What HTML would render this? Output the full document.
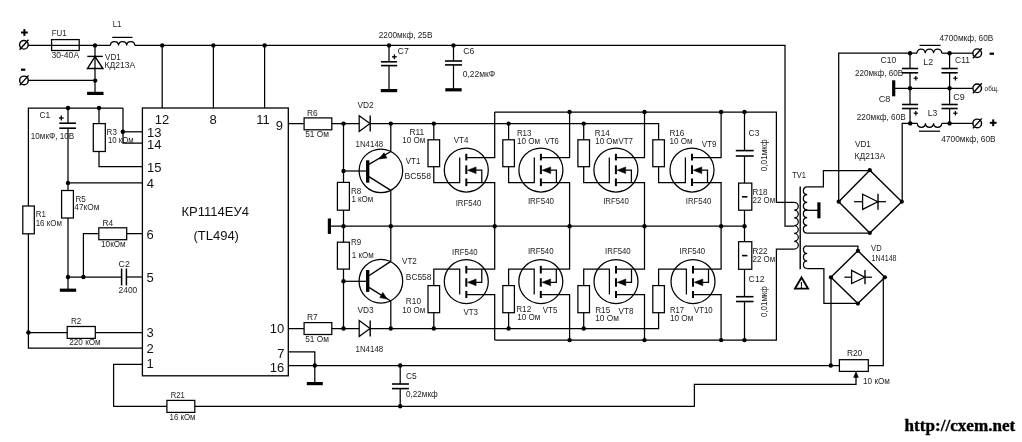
<!DOCTYPE html>
<html><head><meta charset="utf-8"><title>TL494 inverter schematic</title>
<style>
html,body{margin:0;padding:0;background:#fff}
svg{display:block;will-change:transform}
.t{font:8.3px "Liberation Sans",sans-serif;fill:#1c1c1c;stroke:none}
.p{font:13px "Liberation Sans",sans-serif;fill:#111;stroke:none}
</style></head><body>
<svg width="1022" height="442" viewBox="0 0 1022 442" fill="none" stroke="#000" stroke-linecap="butt" stroke-linejoin="miter">
<rect x="0" y="0" width="1022" height="442" fill="#fff" stroke="none"/>
<polyline points="21.0,32.5 27.8,32.5" stroke-width="2.0" />
<polyline points="24.4,29.1 24.4,35.9" stroke-width="2.0" />
<circle cx="23.9" cy="44.8" r="4.3" stroke-width="1.4" fill="#fff"/>
<polyline points="19.6,49.8 28.5,39.8" stroke-width="1.4" />
<polyline points="28.2,45.4 110.4,45.4" stroke-width="1.25" />
<rect x="51.6" y="39.6" width="27.6" height="10.9" stroke-width="1.25" fill="#fff"/>
<polyline points="51.6,45.4 79.2,45.4" stroke-width="1.25" />
<text class="t" x="51.7" y="36.3" textLength="14.9" lengthAdjust="spacingAndGlyphs">FU1</text>
<text class="t" x="51.5" y="58.4" textLength="27.6" lengthAdjust="spacingAndGlyphs">30-40A</text>
<circle cx="95.0" cy="45.4" r="2.2" fill="#000" stroke="none"/>
<polyline points="95.0,45.4 95.0,93.0" stroke-width="1.25" />
<polyline points="87.3,56.4 102.8,56.4" stroke-width="1.4" />
<polygon points="95.0,56.6 87.5,68.5 102.9,68.5" fill="none" stroke-width="1.4"/>
<polyline points="21.0,69.7 25.3,69.7" stroke-width="2.2" />
<circle cx="24.0" cy="80.4" r="4.3" stroke-width="1.4" fill="#fff"/>
<polyline points="19.7,85.4 28.6,75.4" stroke-width="1.4" />
<polyline points="28.3,80.4 95.0,80.4" stroke-width="1.25" />
<circle cx="95.2" cy="80.6" r="2.2" fill="#000" stroke="none"/>
<polyline points="87.1,93.4 103.5,93.4" stroke-width="3.2" />
<text class="t" x="105.0" y="59.9" textLength="15.8" lengthAdjust="spacingAndGlyphs">VD1</text>
<text class="t" x="104.6" y="68.4" textLength="30.6" lengthAdjust="spacingAndGlyphs">КД213А</text>
<path d="M110.4,45.4 a4.07,4.07 0 0 1 8.13,0 a4.07,4.07 0 0 1 8.13,0 a4.07,4.07 0 0 1 8.13,0" stroke-width="1.25" fill="none"/>
<polyline points="112.3,37.4 132.5,37.4" stroke-width="1.25" />
<text class="t" x="112.7" y="26.5" textLength="8.7" lengthAdjust="spacingAndGlyphs">L1</text>
<polyline points="134.8,45.4 785.0,45.4 785.0,226.2 794.2,226.2" stroke-width="1.25" />
<circle cx="162.2" cy="45.4" r="2.2" fill="#000" stroke="none"/>
<circle cx="213.4" cy="45.4" r="2.2" fill="#000" stroke="none"/>
<circle cx="264.6" cy="45.4" r="2.2" fill="#000" stroke="none"/>
<polyline points="162.2,45.4 162.2,108.0" stroke-width="1.25" />
<polyline points="213.4,45.4 213.4,108.0" stroke-width="1.25" />
<polyline points="264.6,45.4 264.6,108.0" stroke-width="1.25" />
<circle cx="389.0" cy="45.4" r="2.2" fill="#000" stroke="none"/>
<polyline points="389.0,45.4 389.0,61.8" stroke-width="1.25" />
<polyline points="389.0,65.6 389.0,90.4" stroke-width="1.25" />
<polyline points="381.0,61.8 397.2,61.8" stroke-width="1.6" />
<polyline points="381.0,65.6 397.2,65.6" stroke-width="1.6" />
<polyline points="380.8,90.6 397.2,90.6" stroke-width="3.2" />
<polyline points="392.0,56.8 396.8,56.8" stroke-width="1.3" />
<polyline points="394.4,54.4 394.4,59.2" stroke-width="1.3" />
<circle cx="453.5" cy="45.4" r="2.2" fill="#000" stroke="none"/>
<polyline points="453.5,45.4 453.5,61.0" stroke-width="1.25" />
<polyline points="453.5,64.9 453.5,89.6" stroke-width="1.25" />
<polyline points="445.0,61.0 462.0,61.0" stroke-width="1.6" />
<polyline points="445.0,64.9 462.0,64.9" stroke-width="1.6" />
<polyline points="445.3,89.8 461.7,89.8" stroke-width="3.2" />
<text class="t" x="378.7" y="38.2" textLength="53.8" lengthAdjust="spacingAndGlyphs">2200мкф, 25В</text>
<text class="t" x="397.6" y="53.5" textLength="11.3" lengthAdjust="spacingAndGlyphs">C7</text>
<text class="t" x="463.3" y="53.5" textLength="11.1" lengthAdjust="spacingAndGlyphs">C6</text>
<text class="t" x="462.8" y="76.5" textLength="32.4" lengthAdjust="spacingAndGlyphs">0,22мкФ</text>
<rect x="142.4" y="108.0" width="145.9" height="267.8" stroke-width="1.3" fill="#fff"/>
<text class="p" x="162.1" y="124.3" text-anchor="middle">12</text>
<text class="p" x="213.1" y="124.3" text-anchor="middle">8</text>
<text class="p" x="262.9" y="124.3" text-anchor="middle">11</text>
<text class="p" x="279.3" y="130.0" text-anchor="middle">9</text>
<text class="p" x="154.2" y="137.0" text-anchor="middle">13</text>
<text class="p" x="154.3" y="148.5" text-anchor="middle">14</text>
<text class="p" x="154.2" y="171.6" text-anchor="middle">15</text>
<text class="p" x="150.4" y="188.0" text-anchor="middle">4</text>
<text class="p" x="150.1" y="239.0" text-anchor="middle">6</text>
<text class="p" x="150.1" y="282.0" text-anchor="middle">5</text>
<text class="p" x="150.1" y="337.0" text-anchor="middle">3</text>
<text class="p" x="150.1" y="353.0" text-anchor="middle">2</text>
<text class="p" x="150.2" y="368.0" text-anchor="middle">1</text>
<text class="p" x="276.9" y="333.0" text-anchor="middle">10</text>
<text class="p" x="280.8" y="357.7" text-anchor="middle">7</text>
<text class="p" x="277.1" y="372.0" text-anchor="middle">16</text>
<text class="p" x="215.2" y="216.4" text-anchor="middle">КР1114ЕУ4</text>
<text class="p" x="216.2" y="240.4" text-anchor="middle">(TL494)</text>
<polyline points="123.0,108.0 28.4,108.0 28.4,348.0 142.4,348.0" stroke-width="1.25" />
<circle cx="68.0" cy="108.0" r="2.2" fill="#000" stroke="none"/>
<circle cx="99.0" cy="108.0" r="2.2" fill="#000" stroke="none"/>
<polyline points="123.0,108.0 123.0,143.2 142.4,143.2" stroke-width="1.25" />
<circle cx="122.8" cy="131.8" r="2.2" fill="#000" stroke="none"/>
<polyline points="122.8,131.8 142.4,131.8" stroke-width="1.25" />
<polyline points="99.0,108.0 99.0,166.7 142.4,166.7" stroke-width="1.25" />
<rect x="93.3" y="123.6" width="12.0" height="27.9" stroke-width="1.25" fill="#fff"/>
<polyline points="68.0,108.0 68.0,123.2" stroke-width="1.25" />
<polyline points="68.0,128.2 68.0,290.0" stroke-width="1.25" />
<polyline points="59.3,123.2 76.0,123.2" stroke-width="1.6" />
<polyline points="59.3,128.2 76.0,128.2" stroke-width="1.6" />
<polyline points="58.9,118.0 63.7,118.0" stroke-width="1.3" />
<polyline points="61.3,115.6 61.3,120.4" stroke-width="1.3" />
<circle cx="68.0" cy="182.9" r="2.2" fill="#000" stroke="none"/>
<polyline points="68.0,182.9 142.4,182.9" stroke-width="1.25" />
<rect x="61.6" y="190.5" width="11.8" height="27.5" stroke-width="1.25" fill="#fff"/>
<circle cx="68.0" cy="277.0" r="2.2" fill="#000" stroke="none"/>
<circle cx="83.4" cy="277.0" r="2.2" fill="#000" stroke="none"/>
<polyline points="68.0,277.0 121.5,277.0" stroke-width="1.25" />
<polyline points="126.4,277.0 142.4,277.0" stroke-width="1.25" />
<polyline points="121.6,268.5 121.6,285.5" stroke-width="1.5" />
<polyline points="126.4,268.5 126.4,285.5" stroke-width="1.5" />
<polyline points="83.4,277.0 83.4,233.7 142.4,233.7" stroke-width="1.25" />
<rect x="98.8" y="227.8" width="27.9" height="11.9" stroke-width="1.25" fill="#fff"/>
<polyline points="59.8,290.2 76.2,290.2" stroke-width="3.2" />
<rect x="22.8" y="206.0" width="11.5" height="27.8" stroke-width="1.25" fill="#fff"/>
<circle cx="28.4" cy="332.5" r="2.2" fill="#000" stroke="none"/>
<polyline points="28.4,332.5 142.4,332.5" stroke-width="1.25" />
<rect x="67.2" y="326.5" width="28.1" height="11.9" stroke-width="1.25" fill="#fff"/>
<polyline points="142.4,364.4 113.6,364.4 113.6,406.3 694.4,406.3 694.4,384.4 856.0,384.4 856.0,376.0" stroke-width="1.25" />
<rect x="166.9" y="400.4" width="27.9" height="12.0" stroke-width="1.25" fill="#fff"/>
<text class="t" x="39.4" y="117.5" textLength="10.8" lengthAdjust="spacingAndGlyphs">C1</text>
<text class="t" x="30.7" y="139.2" textLength="43.6" lengthAdjust="spacingAndGlyphs">10мкФ, 10В</text>
<text class="t" x="106.6" y="134.9" textLength="10.3" lengthAdjust="spacingAndGlyphs">R3</text>
<text class="t" x="107.9" y="143.2" textLength="25.7" lengthAdjust="spacingAndGlyphs">10 кОм</text>
<text class="t" x="75.5" y="201.9" textLength="10.3" lengthAdjust="spacingAndGlyphs">R5</text>
<text class="t" x="74.3" y="209.9" textLength="25.1" lengthAdjust="spacingAndGlyphs">47кОм</text>
<text class="t" x="35.7" y="217.4" textLength="10.2" lengthAdjust="spacingAndGlyphs">R1</text>
<text class="t" x="35.7" y="225.5" textLength="26.2" lengthAdjust="spacingAndGlyphs">16 кОм</text>
<text class="t" x="102.4" y="226.0" textLength="10.7" lengthAdjust="spacingAndGlyphs">R4</text>
<text class="t" x="101.1" y="247.2" textLength="24.5" lengthAdjust="spacingAndGlyphs">10кОм</text>
<text class="t" x="118.6" y="266.6" textLength="11.2" lengthAdjust="spacingAndGlyphs">C2</text>
<text class="t" x="118.6" y="292.6" textLength="18.7" lengthAdjust="spacingAndGlyphs">2400</text>
<text class="t" x="71.0" y="324.2" textLength="10.3" lengthAdjust="spacingAndGlyphs">R2</text>
<text class="t" x="69.3" y="345.4" textLength="31.4" lengthAdjust="spacingAndGlyphs">220 кОм</text>
<text class="t" x="170.8" y="397.6" textLength="14.1" lengthAdjust="spacingAndGlyphs">R21</text>
<text class="t" x="169.5" y="419.6" textLength="26.0" lengthAdjust="spacingAndGlyphs">16 кОм</text>
<polyline points="288.3,123.6 658.6,123.6 658.6,139.8" stroke-width="1.25" />
<polyline points="288.3,328.5 658.6,328.5 658.6,312.7" stroke-width="1.25" />
<rect x="304.1" y="117.9" width="27.7" height="11.9" stroke-width="1.25" fill="#fff"/>
<rect x="304.1" y="322.6" width="27.7" height="11.9" stroke-width="1.25" fill="#fff"/>
<circle cx="343.5" cy="123.6" r="2.2" fill="#000" stroke="none"/>
<circle cx="390.8" cy="123.6" r="2.2" fill="#000" stroke="none"/>
<polygon points="359.2,115.7 359.2,131.5 370.0,123.6" fill="#fff" stroke-width="1.25"/>
<polyline points="370.2,115.6 370.2,131.6" stroke-width="1.4" />
<circle cx="343.5" cy="328.5" r="2.2" fill="#000" stroke="none"/>
<circle cx="390.8" cy="328.5" r="2.2" fill="#000" stroke="none"/>
<polygon points="359.2,320.6 359.2,336.4 370.0,328.5" fill="#fff" stroke-width="1.25"/>
<polyline points="370.2,320.5 370.2,336.5" stroke-width="1.4" />
<polyline points="343.5,123.6 343.5,328.5" stroke-width="1.25" />
<circle cx="343.5" cy="171.0" r="2.2" fill="#000" stroke="none"/>
<circle cx="343.5" cy="226.2" r="2.2" fill="#000" stroke="none"/>
<circle cx="343.5" cy="281.3" r="2.2" fill="#000" stroke="none"/>
<rect x="337.4" y="182.4" width="12.0" height="27.8" stroke-width="1.25" fill="#fff"/>
<rect x="337.4" y="242.2" width="12.0" height="26.9" stroke-width="1.25" fill="#fff"/>
<polyline points="329.4,218.5 329.4,233.9" stroke-width="3.2" />
<polyline points="329.4,226.2 744.5,226.2" stroke-width="1.25" />
<polyline points="390.8,123.6 390.8,151.5" stroke-width="1.25" />
<polyline points="390.8,190.4 390.8,261.3" stroke-width="1.25" />
<polyline points="390.8,301.0 390.8,328.5" stroke-width="1.25" />
<circle cx="390.8" cy="226.2" r="2.2" fill="#000" stroke="none"/>
<circle cx="380.9" cy="170.8" r="21.8" stroke-width="1.25" fill="none"/>
<circle cx="380.9" cy="281.2" r="21.8" stroke-width="1.25" fill="none"/>
<polyline points="343.5,171.0 367.6,171.0" stroke-width="1.25" />
<polyline points="343.5,281.3 367.6,281.3" stroke-width="1.25" />
<polyline points="367.7,160.3 367.7,182.7" stroke-width="3.3" />
<polyline points="367.7,270.0 367.7,291.9" stroke-width="3.3" />
<polyline points="368.5,164.6 390.8,151.5" stroke-width="1.4" />
<polyline points="368.5,176.4 390.8,190.4" stroke-width="1.4" />
<polygon points="379.0,159.0 384.0,152.8 386.9,157.9" fill="#000" stroke-width="0.6"/>
<polyline points="368.5,276.0 390.8,261.3" stroke-width="1.4" />
<polyline points="368.5,287.2 390.8,301.0" stroke-width="1.4" />
<polygon points="387.2,299.0 379.8,297.6 382.8,292.4" fill="#000" stroke-width="0.6"/>
<text class="t" x="307.0" y="115.5" textLength="10.7" lengthAdjust="spacingAndGlyphs">R6</text>
<text class="t" x="305.2" y="137.4" textLength="23.7" lengthAdjust="spacingAndGlyphs">51 Ом</text>
<text class="t" x="357.5" y="108.0" textLength="16.2" lengthAdjust="spacingAndGlyphs">VD2</text>
<text class="t" x="355.5" y="146.7" textLength="27.7" lengthAdjust="spacingAndGlyphs">1N4148</text>
<text class="t" x="409.5" y="135.0" textLength="14.8" lengthAdjust="spacingAndGlyphs">R11</text>
<text class="t" x="402.3" y="143.1" textLength="22.9" lengthAdjust="spacingAndGlyphs">10 Ом</text>
<text class="t" x="405.8" y="163.5" textLength="14.5" lengthAdjust="spacingAndGlyphs">VT1</text>
<text class="t" x="404.5" y="179.1" textLength="26.5" lengthAdjust="spacingAndGlyphs">BC558</text>
<text class="t" x="351.0" y="193.5" textLength="10.3" lengthAdjust="spacingAndGlyphs">R8</text>
<text class="t" x="351.4" y="202.1" textLength="21.9" lengthAdjust="spacingAndGlyphs">1 кОм</text>
<text class="t" x="351.0" y="245.1" textLength="10.3" lengthAdjust="spacingAndGlyphs">R9</text>
<text class="t" x="351.8" y="257.5" textLength="21.9" lengthAdjust="spacingAndGlyphs">1 кОм</text>
<text class="t" x="402.0" y="263.5" textLength="14.8" lengthAdjust="spacingAndGlyphs">VT2</text>
<text class="t" x="405.8" y="279.5" textLength="25.6" lengthAdjust="spacingAndGlyphs">BC558</text>
<text class="t" x="357.5" y="312.5" textLength="16.2" lengthAdjust="spacingAndGlyphs">VD3</text>
<text class="t" x="355.5" y="351.7" textLength="27.7" lengthAdjust="spacingAndGlyphs">1N4148</text>
<text class="t" x="307.0" y="320.1" textLength="10.7" lengthAdjust="spacingAndGlyphs">R7</text>
<text class="t" x="305.2" y="341.9" textLength="23.7" lengthAdjust="spacingAndGlyphs">51 Ом</text>
<text class="t" x="405.8" y="304.0" textLength="15.2" lengthAdjust="spacingAndGlyphs">R10</text>
<text class="t" x="402.3" y="312.5" textLength="22.9" lengthAdjust="spacingAndGlyphs">10 Ом</text>
<circle cx="433.8" cy="123.6" r="2.2" fill="#000" stroke="none"/>
<circle cx="433.8" cy="328.5" r="2.2" fill="#000" stroke="none"/>
<polyline points="433.8,123.6 433.8,139.8" stroke-width="1.25" />
<polyline points="433.8,328.5 433.8,312.7" stroke-width="1.25" />
<rect x="428.0" y="139.8" width="11.6" height="26.9" stroke-width="1.25" fill="#fff"/>
<rect x="428.0" y="285.6" width="11.6" height="27.1" stroke-width="1.25" fill="#fff"/>
<circle cx="466.3" cy="170.0" r="22" stroke-width="1.25" fill="none"/>
<polyline points="433.8,166.7 433.8,182.6 459.7,182.6 459.7,157.5" stroke-width="1.25" />
<polyline points="466.3,153.8 466.3,160.4" stroke-width="2.0" />
<polyline points="466.3,165.3 466.3,174.1" stroke-width="2.0" />
<polyline points="466.3,178.5 466.3,186.1" stroke-width="2.0" />
<polyline points="466.3,157.5 494.7,157.5 494.7,112.0" stroke-width="1.25" />
<polyline points="466.3,182.6 494.7,182.6 494.7,226.2" stroke-width="1.25" />
<polygon points="467.5,170.2 476.1,166.9 476.1,173.6" fill="#000" stroke-width="0.5"/>
<polyline points="476.1,170.2 481.8,170.2 481.8,182.6" stroke-width="1.25" />
<circle cx="466.3" cy="281.6" r="22" stroke-width="1.25" fill="none"/>
<polyline points="433.8,285.6 433.8,269.1 459.7,269.1 459.7,294.5" stroke-width="1.25" />
<polyline points="466.3,265.9 466.3,273.5" stroke-width="2.0" />
<polyline points="466.3,278.2 466.3,286.7" stroke-width="2.0" />
<polyline points="466.3,290.9 466.3,298.0" stroke-width="2.0" />
<polyline points="466.3,269.1 494.7,269.1 494.7,226.2" stroke-width="1.25" />
<polyline points="466.3,294.5 494.7,294.5 494.7,340.1" stroke-width="1.25" />
<polygon points="467.5,282.3 476.1,279.0 476.1,285.7" fill="#000" stroke-width="0.5"/>
<polyline points="476.1,282.3 481.8,282.3 481.8,269.1" stroke-width="1.25" />
<circle cx="494.7" cy="226.2" r="2.2" fill="#000" stroke="none"/>
<circle cx="508.6" cy="123.6" r="2.2" fill="#000" stroke="none"/>
<circle cx="508.6" cy="328.5" r="2.2" fill="#000" stroke="none"/>
<polyline points="508.6,123.6 508.6,139.8" stroke-width="1.25" />
<polyline points="508.6,328.5 508.6,312.7" stroke-width="1.25" />
<rect x="502.8" y="139.8" width="11.6" height="26.9" stroke-width="1.25" fill="#fff"/>
<rect x="502.8" y="285.6" width="11.6" height="27.1" stroke-width="1.25" fill="#fff"/>
<circle cx="540.9" cy="170.0" r="22" stroke-width="1.25" fill="none"/>
<polyline points="508.6,166.7 508.6,182.6 534.3,182.6 534.3,157.5" stroke-width="1.25" />
<polyline points="540.9,153.8 540.9,160.4" stroke-width="2.0" />
<polyline points="540.9,165.3 540.9,174.1" stroke-width="2.0" />
<polyline points="540.9,178.5 540.9,186.1" stroke-width="2.0" />
<polyline points="540.9,157.5 569.6,157.5 569.6,112.0" stroke-width="1.25" />
<polyline points="540.9,182.6 569.6,182.6 569.6,226.2" stroke-width="1.25" />
<polygon points="542.1,170.2 550.7,166.9 550.7,173.6" fill="#000" stroke-width="0.5"/>
<polyline points="550.7,170.2 556.4,170.2 556.4,182.6" stroke-width="1.25" />
<circle cx="540.8" cy="281.6" r="22" stroke-width="1.25" fill="none"/>
<polyline points="508.6,285.6 508.6,269.1 534.2,269.1 534.2,294.5" stroke-width="1.25" />
<polyline points="540.8,265.9 540.8,273.5" stroke-width="2.0" />
<polyline points="540.8,278.2 540.8,286.7" stroke-width="2.0" />
<polyline points="540.8,290.9 540.8,298.0" stroke-width="2.0" />
<polyline points="540.8,269.1 569.6,269.1 569.6,226.2" stroke-width="1.25" />
<polyline points="540.8,294.5 569.6,294.5 569.6,340.1" stroke-width="1.25" />
<polygon points="542.0,282.3 550.6,279.0 550.6,285.7" fill="#000" stroke-width="0.5"/>
<polyline points="550.6,282.3 556.3,282.3 556.3,269.1" stroke-width="1.25" />
<circle cx="569.6" cy="226.2" r="2.2" fill="#000" stroke="none"/>
<circle cx="569.6" cy="112.0" r="2.2" fill="#000" stroke="none"/>
<circle cx="569.6" cy="340.1" r="2.2" fill="#000" stroke="none"/>
<circle cx="583.7" cy="123.6" r="2.2" fill="#000" stroke="none"/>
<circle cx="583.7" cy="328.5" r="2.2" fill="#000" stroke="none"/>
<polyline points="583.7,123.6 583.7,139.8" stroke-width="1.25" />
<polyline points="583.7,328.5 583.7,312.7" stroke-width="1.25" />
<rect x="577.9" y="139.8" width="11.6" height="26.9" stroke-width="1.25" fill="#fff"/>
<rect x="577.9" y="285.6" width="11.6" height="27.1" stroke-width="1.25" fill="#fff"/>
<circle cx="615.9" cy="170.0" r="22" stroke-width="1.25" fill="none"/>
<polyline points="583.7,166.7 583.7,182.6 609.3,182.6 609.3,157.5" stroke-width="1.25" />
<polyline points="615.9,153.8 615.9,160.4" stroke-width="2.0" />
<polyline points="615.9,165.3 615.9,174.1" stroke-width="2.0" />
<polyline points="615.9,178.5 615.9,186.1" stroke-width="2.0" />
<polyline points="615.9,157.5 644.5,157.5 644.5,112.0" stroke-width="1.25" />
<polyline points="615.9,182.6 644.5,182.6 644.5,226.2" stroke-width="1.25" />
<polygon points="617.1,170.2 625.7,166.9 625.7,173.6" fill="#000" stroke-width="0.5"/>
<polyline points="625.7,170.2 631.4,170.2 631.4,182.6" stroke-width="1.25" />
<circle cx="616.0" cy="281.6" r="22" stroke-width="1.25" fill="none"/>
<polyline points="583.7,285.6 583.7,269.1 609.4,269.1 609.4,294.5" stroke-width="1.25" />
<polyline points="616.0,265.9 616.0,273.5" stroke-width="2.0" />
<polyline points="616.0,278.2 616.0,286.7" stroke-width="2.0" />
<polyline points="616.0,290.9 616.0,298.0" stroke-width="2.0" />
<polyline points="616.0,269.1 644.5,269.1 644.5,226.2" stroke-width="1.25" />
<polyline points="616.0,294.5 644.5,294.5 644.5,340.1" stroke-width="1.25" />
<polygon points="617.2,282.3 625.8,279.0 625.8,285.7" fill="#000" stroke-width="0.5"/>
<polyline points="625.8,282.3 631.5,282.3 631.5,269.1" stroke-width="1.25" />
<circle cx="644.5" cy="226.2" r="2.2" fill="#000" stroke="none"/>
<circle cx="644.5" cy="112.0" r="2.2" fill="#000" stroke="none"/>
<circle cx="644.5" cy="340.1" r="2.2" fill="#000" stroke="none"/>
<rect x="652.8" y="139.8" width="11.6" height="26.9" stroke-width="1.25" fill="#fff"/>
<rect x="652.8" y="285.6" width="11.6" height="27.1" stroke-width="1.25" fill="#fff"/>
<circle cx="692.0" cy="170.0" r="22" stroke-width="1.25" fill="none"/>
<polyline points="658.6,166.7 658.6,182.6 685.4,182.6 685.4,157.5" stroke-width="1.25" />
<polyline points="692.0,153.8 692.0,160.4" stroke-width="2.0" />
<polyline points="692.0,165.3 692.0,174.1" stroke-width="2.0" />
<polyline points="692.0,178.5 692.0,186.1" stroke-width="2.0" />
<polyline points="692.0,157.5 721.1,157.5 721.1,112.0" stroke-width="1.25" />
<polyline points="692.0,182.6 721.1,182.6 721.1,226.2" stroke-width="1.25" />
<polygon points="693.2,170.2 701.8,166.9 701.8,173.6" fill="#000" stroke-width="0.5"/>
<polyline points="701.8,170.2 707.5,170.2 707.5,182.6" stroke-width="1.25" />
<circle cx="693.0" cy="281.6" r="22" stroke-width="1.25" fill="none"/>
<polyline points="658.6,285.6 658.6,269.1 686.4,269.1 686.4,294.5" stroke-width="1.25" />
<polyline points="693.0,265.9 693.0,273.5" stroke-width="2.0" />
<polyline points="693.0,278.2 693.0,286.7" stroke-width="2.0" />
<polyline points="693.0,290.9 693.0,298.0" stroke-width="2.0" />
<polyline points="693.0,269.1 721.1,269.1 721.1,226.2" stroke-width="1.25" />
<polyline points="693.0,294.5 721.1,294.5 721.1,340.1" stroke-width="1.25" />
<polygon points="694.2,282.3 702.8,279.0 702.8,285.7" fill="#000" stroke-width="0.5"/>
<polyline points="702.8,282.3 708.5,282.3 708.5,269.1" stroke-width="1.25" />
<circle cx="721.1" cy="226.2" r="2.2" fill="#000" stroke="none"/>
<circle cx="721.1" cy="112.0" r="2.2" fill="#000" stroke="none"/>
<circle cx="721.1" cy="340.1" r="2.2" fill="#000" stroke="none"/>
<polyline points="494.7,112.0 776.4,112.0 776.4,202.4 794.2,202.4" stroke-width="1.25" />
<polyline points="494.7,340.1 776.4,340.1 776.4,249.0 794.2,249.0" stroke-width="1.25" />
<text class="t" x="453.7" y="143.3" textLength="14.7" lengthAdjust="spacingAndGlyphs">VT4</text>
<text class="t" x="455.7" y="205.5" textLength="25.7" lengthAdjust="spacingAndGlyphs">IRF540</text>
<text class="t" x="516.9" y="135.5" textLength="14.5" lengthAdjust="spacingAndGlyphs">R13</text>
<text class="t" x="516.9" y="143.5" textLength="23.2" lengthAdjust="spacingAndGlyphs">10 Ом</text>
<text class="t" x="544.8" y="143.5" textLength="14.0" lengthAdjust="spacingAndGlyphs">VT6</text>
<text class="t" x="594.8" y="135.5" textLength="15.0" lengthAdjust="spacingAndGlyphs">R14</text>
<text class="t" x="595.3" y="143.5" textLength="22.7" lengthAdjust="spacingAndGlyphs">10 Ом</text>
<text class="t" x="618.5" y="143.5" textLength="14.5" lengthAdjust="spacingAndGlyphs">VT7</text>
<text class="t" x="669.4" y="135.5" textLength="15.0" lengthAdjust="spacingAndGlyphs">R16</text>
<text class="t" x="669.4" y="143.5" textLength="23.2" lengthAdjust="spacingAndGlyphs">10 Ом</text>
<text class="t" x="701.8" y="147.0" textLength="14.6" lengthAdjust="spacingAndGlyphs">VT9</text>
<text class="t" x="527.9" y="204.0" textLength="26.1" lengthAdjust="spacingAndGlyphs">IRF540</text>
<text class="t" x="603.2" y="204.0" textLength="25.6" lengthAdjust="spacingAndGlyphs">IRF540</text>
<text class="t" x="685.8" y="204.0" textLength="25.6" lengthAdjust="spacingAndGlyphs">IRF540</text>
<text class="t" x="452.0" y="255.1" textLength="25.6" lengthAdjust="spacingAndGlyphs">IRF540</text>
<text class="t" x="527.9" y="253.5" textLength="25.7" lengthAdjust="spacingAndGlyphs">IRF540</text>
<text class="t" x="605.1" y="253.5" textLength="25.6" lengthAdjust="spacingAndGlyphs">IRF540</text>
<text class="t" x="679.6" y="253.5" textLength="25.6" lengthAdjust="spacingAndGlyphs">IRF540</text>
<text class="t" x="463.4" y="314.9" textLength="14.6" lengthAdjust="spacingAndGlyphs">VT3</text>
<text class="t" x="516.2" y="312.1" textLength="15.0" lengthAdjust="spacingAndGlyphs">R12</text>
<text class="t" x="517.2" y="320.3" textLength="23.2" lengthAdjust="spacingAndGlyphs">10 Ом</text>
<text class="t" x="542.8" y="312.5" textLength="14.6" lengthAdjust="spacingAndGlyphs">VT5</text>
<text class="t" x="595.2" y="312.5" textLength="15.0" lengthAdjust="spacingAndGlyphs">R15</text>
<text class="t" x="595.2" y="321.0" textLength="23.7" lengthAdjust="spacingAndGlyphs">10 Ом</text>
<text class="t" x="618.6" y="313.5" textLength="14.8" lengthAdjust="spacingAndGlyphs">VT8</text>
<text class="t" x="669.9" y="312.5" textLength="14.2" lengthAdjust="spacingAndGlyphs">R17</text>
<text class="t" x="669.9" y="321.0" textLength="23.5" lengthAdjust="spacingAndGlyphs">10 Ом</text>
<text class="t" x="694.0" y="313.0" textLength="18.7" lengthAdjust="spacingAndGlyphs">VT10</text>
<circle cx="744.5" cy="112.0" r="2.2" fill="#000" stroke="none"/>
<circle cx="744.5" cy="226.2" r="2.2" fill="#000" stroke="none"/>
<circle cx="744.5" cy="340.1" r="2.2" fill="#000" stroke="none"/>
<polyline points="744.5,112.0 744.5,150.6" stroke-width="1.25" />
<polyline points="744.5,156.0 744.5,183.0" stroke-width="1.25" />
<polyline points="735.8,150.6 753.7,150.6" stroke-width="1.6" />
<polyline points="735.8,156.0 753.7,156.0" stroke-width="1.6" />
<polyline points="744.5,210.2 744.5,241.7" stroke-width="1.25" />
<polyline points="744.5,269.3 744.5,296.7" stroke-width="1.25" />
<polyline points="744.5,301.5 744.5,340.1" stroke-width="1.25" />
<polyline points="736.0,296.7 753.5,296.7" stroke-width="1.6" />
<polyline points="736.0,301.5 753.5,301.5" stroke-width="1.6" />
<rect x="738.6" y="183.1" width="13.2" height="27.1" stroke-width="1.25" fill="#fff"/>
<rect x="738.6" y="241.7" width="13.2" height="27.6" stroke-width="1.25" fill="#fff"/>
<polyline points="742.0,196.8 747.4,196.8" stroke-width="1.6" />
<polyline points="742.0,255.6 747.4,255.6" stroke-width="1.6" />
<text class="t" x="748.6" y="135.5" textLength="10.7" lengthAdjust="spacingAndGlyphs">C3</text>
<text class="t" x="748.6" y="281.5" textLength="16.0" lengthAdjust="spacingAndGlyphs">C12</text>
<text class="t" x="752.6" y="194.5" textLength="15.0" lengthAdjust="spacingAndGlyphs">R18</text>
<text class="t" x="752.6" y="203.0" textLength="22.5" lengthAdjust="spacingAndGlyphs">22 Ом</text>
<text class="t" x="752.6" y="253.9" textLength="15.0" lengthAdjust="spacingAndGlyphs">R22</text>
<text class="t" x="752.6" y="261.5" textLength="22.5" lengthAdjust="spacingAndGlyphs">22 Ом</text>
<text class="t" transform="translate(766.6 171.2) rotate(-90)" textLength="31.8" lengthAdjust="spacingAndGlyphs">0,01мкф</text>
<text class="t" transform="translate(766.8 317) rotate(-90)" textLength="30.8" lengthAdjust="spacingAndGlyphs">0,01мкф</text>
<path d="M794.2,202.4 a4.08,3.88 0 0 1 0,7.77 a4.08,3.88 0 0 1 0,7.77 a4.08,3.88 0 0 1 0,7.77 a4.08,3.88 0 0 1 0,7.77 a4.08,3.88 0 0 1 0,7.77 a4.08,3.88 0 0 1 0,7.77" stroke-width="1.25" fill="none"/>
<polyline points="800.2,186.6 800.2,269.2" stroke-width="1.4" />
<path d="M807.2,186.8 a4.06,3.87 0 0 0 0,7.73 a4.06,3.87 0 0 0 0,7.73 a4.06,3.87 0 0 0 0,7.73 a4.06,3.87 0 0 0 0,7.73 a4.06,3.87 0 0 0 0,7.73 a4.06,3.87 0 0 0 0,7.73" stroke-width="1.25" fill="none"/>
<path d="M807.2,245.9 a3.95,3.77 0 0 0 0,7.53 a3.95,3.77 0 0 0 0,7.53 a3.95,3.77 0 0 0 0,7.53" stroke-width="1.25" fill="none"/>
<polyline points="807.2,186.8 823.4,186.8 823.4,170.6 869.8,170.6" stroke-width="1.25" />
<polyline points="804.0,210.3 818.8,210.3" stroke-width="1.25" />
<polyline points="818.9,202.3 818.9,218.3" stroke-width="3.2" />
<polyline points="807.2,233.2 869.8,233.2" stroke-width="1.25" />
<polyline points="807.2,246.1 857.9,246.1 857.9,250.8" stroke-width="1.25" />
<polyline points="807.2,268.5 823.9,268.5 823.9,303.4 857.9,303.4" stroke-width="1.25" />
<text class="t" x="792.2" y="178.0" textLength="13.7" lengthAdjust="spacingAndGlyphs">TV1</text>
<polygon points="801.5,277.4 795.0,288.6 808.0,288.6" fill="#fff" stroke-width="1.9"/>
<text x="801.5" y="287.6" text-anchor="middle" style="font:bold 8.5px 'Liberation Sans',sans-serif" fill="#000" stroke="none">!</text>
<polygon points="869.8,170.2 901.8,201.7 869.8,233.0 838.7,201.7" fill="none" stroke-width="1.4"/>
<circle cx="869.8" cy="170.2" r="2.1" fill="#000" stroke="none"/>
<circle cx="901.8" cy="201.7" r="2.1" fill="#000" stroke="none"/>
<circle cx="869.8" cy="233.0" r="2.1" fill="#000" stroke="none"/>
<circle cx="838.7" cy="201.7" r="2.1" fill="#000" stroke="none"/>
<polyline points="854.1,201.7 886.0,201.7" stroke-width="1.25" />
<polygon points="862.6,194.2 862.6,209.4 877.8,201.7" fill="#fff" stroke-width="1.25"/>
<polyline points="878.0,193.8 878.0,209.8" stroke-width="1.4" />
<text class="t" x="854.9" y="146.5" textLength="16.0" lengthAdjust="spacingAndGlyphs">VD1</text>
<text class="t" x="854.5" y="158.5" textLength="30.6" lengthAdjust="spacingAndGlyphs">КД213А</text>
<polygon points="857.9,250.8 884.9,277.3 857.9,303.6 830.9,277.3" fill="none" stroke-width="1.4"/>
<circle cx="857.9" cy="250.8" r="2.1" fill="#000" stroke="none"/>
<circle cx="884.9" cy="277.3" r="2.1" fill="#000" stroke="none"/>
<circle cx="857.9" cy="303.6" r="2.1" fill="#000" stroke="none"/>
<circle cx="830.9" cy="277.3" r="2.1" fill="#000" stroke="none"/>
<polyline points="844.4,277.2 872.0,277.2" stroke-width="1.25" />
<polygon points="851.6,270.4 851.6,283.6 864.8,277.2" fill="#fff" stroke-width="1.25"/>
<polyline points="865.0,270.0 865.0,284.2" stroke-width="1.4" />
<text class="t" x="871.1" y="250.5" textLength="10.5" lengthAdjust="spacingAndGlyphs">VD</text>
<text class="t" x="871.6" y="260.5" textLength="25.0" lengthAdjust="spacingAndGlyphs">1N4148</text>
<polyline points="288.3,351.8 314.8,351.8 314.8,383.5" stroke-width="1.25" />
<polyline points="306.8,383.6 322.8,383.6" stroke-width="3.2" />
<circle cx="314.8" cy="365.5" r="2.2" fill="#000" stroke="none"/>
<polyline points="288.3,365.5 839.4,365.5" stroke-width="1.25" />
<circle cx="400.2" cy="365.5" r="2.2" fill="#000" stroke="none"/>
<circle cx="400.2" cy="406.2" r="2.2" fill="#000" stroke="none"/>
<polyline points="400.2,365.5 400.2,384.0" stroke-width="1.25" />
<polyline points="400.2,388.6 400.2,406.2" stroke-width="1.25" />
<polyline points="392.0,384.0 408.9,384.0" stroke-width="1.6" />
<polyline points="392.0,388.6 408.9,388.6" stroke-width="1.6" />
<text class="t" x="406.0" y="379.3" textLength="10.8" lengthAdjust="spacingAndGlyphs">C5</text>
<text class="t" x="406.0" y="396.8" textLength="31.7" lengthAdjust="spacingAndGlyphs">0,22мкф</text>
<polyline points="831.0,277.3 831.0,365.5" stroke-width="1.25" />
<circle cx="830.8" cy="365.5" r="2.2" fill="#000" stroke="none"/>
<rect x="839.4" y="359.7" width="28.9" height="11.7" stroke-width="1.25" fill="#fff"/>
<polyline points="868.3,365.5 883.3,365.5 883.3,277.3" stroke-width="1.25" />
<polygon points="856.0,371.6 853.6,377.4 858.4,377.4" fill="#000" stroke-width="0.5"/>
<text class="t" x="846.9" y="355.5" textLength="15.3" lengthAdjust="spacingAndGlyphs">R20</text>
<text class="t" x="863.1" y="384.0" textLength="26.8" lengthAdjust="spacingAndGlyphs">10 кОм</text>
<polyline points="838.7,201.7 838.7,53.2 917.0,53.2" stroke-width="1.25" />
<path d="M917.0,53.2 a4.13,4.13 0 0 1 8.27,0 a4.13,4.13 0 0 1 8.27,0 a4.13,4.13 0 0 1 8.27,0" stroke-width="1.25" fill="none"/>
<polyline points="941.8,53.2 973.0,53.2" stroke-width="1.25" />
<polyline points="919.5,45.4 940.6,45.4" stroke-width="1.25" />
<circle cx="910.0" cy="53.2" r="2.2" fill="#000" stroke="none"/>
<circle cx="949.6" cy="53.2" r="2.2" fill="#000" stroke="none"/>
<circle cx="977.2" cy="53.2" r="4.3" stroke-width="1.4" fill="#fff"/>
<polyline points="972.9,58.2 981.8,48.2" stroke-width="1.4" />
<polyline points="989.6,53.7 994.0,53.7" stroke-width="2.2" />
<polyline points="893.6,88.3 973.0,88.3" stroke-width="1.25" />
<polyline points="893.7,80.3 893.7,96.3" stroke-width="3.2" />
<circle cx="910.0" cy="88.3" r="2.2" fill="#000" stroke="none"/>
<circle cx="949.6" cy="88.3" r="2.2" fill="#000" stroke="none"/>
<circle cx="977.2" cy="88.3" r="4.3" stroke-width="1.4" fill="#fff"/>
<polyline points="972.9,93.3 981.8,83.3" stroke-width="1.4" />
<polyline points="902.2,201.7 902.2,123.4 917.3,123.4" stroke-width="1.25" />
<path d="M917.3,123.4 a4.07,4.07 0 0 0 8.13,0 a4.07,4.07 0 0 0 8.13,0 a4.07,4.07 0 0 0 8.13,0" stroke-width="1.25" fill="none"/>
<polyline points="941.7,123.4 973.0,123.4" stroke-width="1.25" />
<polyline points="919.0,131.2 940.0,131.2" stroke-width="1.25" />
<circle cx="910.2" cy="123.4" r="2.2" fill="#000" stroke="none"/>
<circle cx="949.6" cy="123.4" r="2.2" fill="#000" stroke="none"/>
<circle cx="977.2" cy="123.4" r="4.3" stroke-width="1.4" fill="#fff"/>
<polyline points="972.9,128.4 981.8,118.4" stroke-width="1.4" />
<polyline points="989.8,122.8 996.6,122.8" stroke-width="2.0" />
<polyline points="993.2,119.4 993.2,126.2" stroke-width="2.0" />
<polyline points="910.0,53.2 910.0,68.5" stroke-width="1.25" />
<polyline points="910.0,72.8 910.0,88.3" stroke-width="1.25" />
<polyline points="901.9,68.5 918.1,68.5" stroke-width="1.6" />
<polyline points="901.9,72.8 918.1,72.8" stroke-width="1.6" />
<polyline points="910.0,88.3 910.0,104.5" stroke-width="1.25" />
<polyline points="910.0,108.5 910.0,123.4" stroke-width="1.25" />
<polyline points="901.9,104.5 918.1,104.5" stroke-width="1.6" />
<polyline points="901.9,108.5 918.1,108.5" stroke-width="1.6" />
<polyline points="913.6,78.2 918.0,78.2" stroke-width="1.2" />
<polyline points="915.8,76.0 915.8,80.4" stroke-width="1.2" />
<polyline points="913.6,113.2 918.0,113.2" stroke-width="1.2" />
<polyline points="915.8,111.0 915.8,115.4" stroke-width="1.2" />
<polyline points="949.6,53.2 949.6,68.5" stroke-width="1.25" />
<polyline points="949.6,72.8 949.6,88.3" stroke-width="1.25" />
<polyline points="941.5,68.5 957.7,68.5" stroke-width="1.6" />
<polyline points="941.5,72.8 957.7,72.8" stroke-width="1.6" />
<polyline points="949.6,88.3 949.6,104.5" stroke-width="1.25" />
<polyline points="949.6,108.5 949.6,123.4" stroke-width="1.25" />
<polyline points="941.5,104.5 957.7,104.5" stroke-width="1.6" />
<polyline points="941.5,108.5 957.7,108.5" stroke-width="1.6" />
<polyline points="953.2,78.2 957.6,78.2" stroke-width="1.2" />
<polyline points="955.4,76.0 955.4,80.4" stroke-width="1.2" />
<polyline points="953.2,113.2 957.6,113.2" stroke-width="1.2" />
<polyline points="955.4,111.0 955.4,115.4" stroke-width="1.2" />
<text class="t" x="939.5" y="40.7" textLength="53.8" lengthAdjust="spacingAndGlyphs">4700мкф, 60В</text>
<text class="t" x="880.5" y="63.0" textLength="15.7" lengthAdjust="spacingAndGlyphs">C10</text>
<text class="t" x="923.3" y="64.5" textLength="9.8" lengthAdjust="spacingAndGlyphs">L2</text>
<text class="t" x="955.1" y="63.0" textLength="15.0" lengthAdjust="spacingAndGlyphs">C11</text>
<text class="t" x="854.9" y="76.1" textLength="48.3" lengthAdjust="spacingAndGlyphs">220мкф, 60В</text>
<text class="t" style="font-size:7.2px" x="984.6" y="90.8" textLength="14.2" lengthAdjust="spacingAndGlyphs">общ.</text>
<text class="t" x="878.7" y="102.1" textLength="11.7" lengthAdjust="spacingAndGlyphs">C8</text>
<text class="t" x="953.2" y="100.0" textLength="11.5" lengthAdjust="spacingAndGlyphs">C9</text>
<text class="t" x="927.8" y="116.0" textLength="9.5" lengthAdjust="spacingAndGlyphs">L3</text>
<text class="t" x="856.8" y="119.5" textLength="48.9" lengthAdjust="spacingAndGlyphs">220мкф, 60В</text>
<text class="t" x="941.2" y="142.0" textLength="54.5" lengthAdjust="spacingAndGlyphs">4700мкф, 60В</text>
<text x="904.6" y="431" textLength="110.6" lengthAdjust="spacingAndGlyphs" style="font:bold 17px 'Liberation Serif',serif" fill="#000" stroke="#000" stroke-width="0.35">http://cxem.net</text>
</svg>
</body></html>
